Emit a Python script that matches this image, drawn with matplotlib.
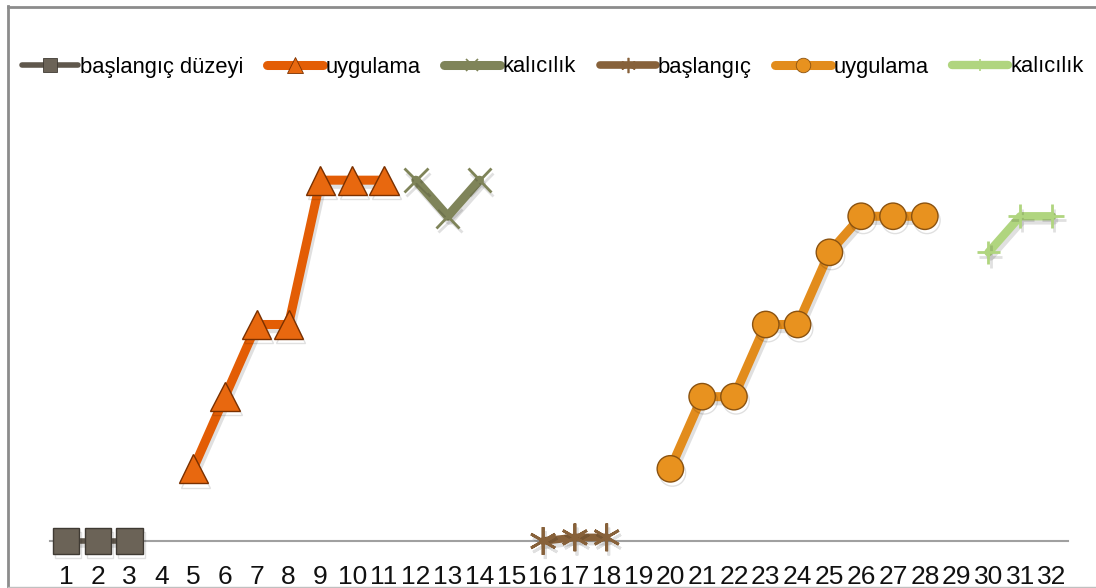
import matplotlib
matplotlib.use("Agg")
import matplotlib.pyplot as plt
from matplotlib.lines import Line2D
import matplotlib.patheffects as pe

categories = [str(i) for i in range(1, 33)]

bas_duzey_x = [1, 2, 3]
bas_duzey_y = [0, 0, 0]

uyg1_x = [5, 6, 7, 8, 9, 10, 11]
uyg1_y = [20, 40, 60, 60, 100, 100, 100]

kal1_x = [12, 13, 14]
kal1_y = [100, 90, 100]

bas2_x = [16, 17, 18]
bas2_y = [0, 1, 1]

uyg2_x = [20, 21, 22, 23, 24, 25, 26, 27, 28]
uyg2_y = [20, 40, 40, 60, 60, 80, 90, 90, 90]

kal2_x = [30, 31, 32]
kal2_y = [80, 90, 90]

labels = ["başlangıç düzeyi", "uygulama", "kalıcılık", "başlangıç", "uygulama", "kalıcılık"]

plt.rcParams['font.family'] = ['Liberation Sans', 'DejaVu Sans']

W, H = 1096, 588
fig = plt.figure(figsize=(W / 100, H / 100), dpi=100)
ax = fig.add_axes([50 / W, 47 / H, (1068 - 50) / W, 433 / H])

shadow = [pe.SimpleLineShadow(offset=(1.5, -3), alpha=0.12, shadow_color='k'), pe.Normal()]

series = [
    (bas_duzey_x, bas_duzey_y, dict(color='#5f574c', lw=4, marker='s', ms=19, mfc='#6b6357', mec='#3f3a33', mew=1.0)),
    (uyg1_x, uyg1_y, dict(color='#e35d05', lw=6.5, marker='^', ms=21, mfc='#e8680f', mec='#7a3000', mew=1.0)),
    (kal1_x, kal1_y, dict(color='#7f8459', lw=6.5, marker='x', ms=17, mec='#7f8459', mew=2.0)),
    (bas2_x, bas2_y, dict(color='#87613a', lw=5.5, marker=(6, 2, 0), ms=20, mec='#87613a', mew=2.0)),
    (uyg2_x, uyg2_y, dict(color='#e28c1c', lw=6.5, marker='o', ms=19, mfc='#e8921f', mec='#8a5210', mew=1.0)),
    (kal2_x, kal2_y, dict(color='#b0d57f', lw=6, marker='+', ms=17, mec='#b0d57f', mew=2.0)),
]

handles = []
for (xs, ys, st), lab in zip(series, labels):
    ln, = ax.plot(xs, ys, label=lab, clip_on=False, solid_capstyle='round',
                  solid_joinstyle='round', zorder=3, **st)
    ln.set_path_effects(shadow)
    h = Line2D([], [], color=st['color'], lw=st['lw'], solid_capstyle='round',
               marker=st['marker'], ms=st['ms'] * 0.55, mfc=st.get('mfc', st['color']),
               mec=st.get('mec'), mew=st.get('mew', 1) * 0.6)
    handles.append(h)

ax.set_xlim(0.5, 32.5)
ax.set_ylim(0, 120)
ax.set_xticks(range(1, 33))
ax.set_xticklabels(categories, fontsize=19, color='#111111')
ax.tick_params(axis='x', length=0, pad=17)
ax.set_yticks([])
for s in ['top', 'right', 'left']:
    ax.spines[s].set_visible(False)
ax.spines['bottom'].set_color('#a0a0a0')
ax.spines['bottom'].set_linewidth(1.5)
ax.spines['bottom'].set_zorder(1)

fig.legend(handles=handles, labels=labels, loc='center', bbox_to_anchor=(553 / W, 1 - 67 / H),
           ncol=6, frameon=False, fontsize=15.8, handlelength=2.55, handletextpad=0.1,
           columnspacing=1.08, borderaxespad=0, borderpad=0)

# chart border
bc = '#8c8c8c'
fig.add_artist(Line2D([8 / W, 8 / W], [1 - 6 / H, 1 - 587 / H], color=bc, lw=2, transform=fig.transFigure))
fig.add_artist(Line2D([8 / W, 1.0], [1 - 6.5 / H, 1 - 6.5 / H], color=bc, lw=2, transform=fig.transFigure))
fig.add_artist(Line2D([8 / W, 1.0], [1 - 587 / H, 1 - 587 / H], color='#c0c0c0', lw=1, transform=fig.transFigure))

fig.savefig('out.png', dpi=100)
